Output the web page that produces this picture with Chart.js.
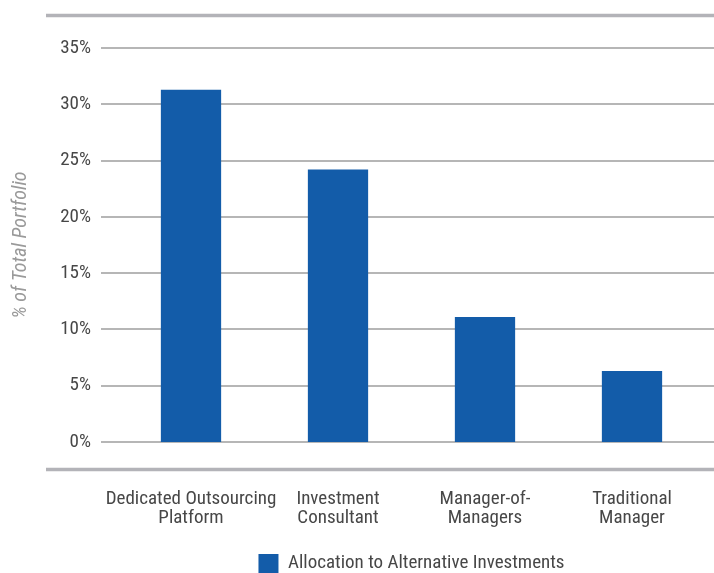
<!DOCTYPE html>
<html>
<head>
<meta charset="utf-8">
<script src="https://cdn.jsdelivr.net/npm/chart.js@4"></script>
<style>
  html, body { margin: 0; padding: 0; background: #ffffff; }
  #wrap { position: relative; width: 714px; height: 573px; }
</style>
</head>
<body>
<div id="wrap"><canvas id="chart"></canvas></div>
<script>
// Share of the total portfolio allocated to alternative investments, by provider type
const categories = [
  ['Dedicated Outsourcing', 'Platform'],
  ['Investment', 'Consultant'],
  ['Manager-of-', 'Managers'],
  ['Traditional', 'Manager']
];
const allocationValues = [31.3, 24.2, 11.1, 6.3];
const seriesName = 'Allocation to Alternative Investments';
const yTickValues = [0, 5, 10, 15, 20, 25, 30, 35];
const yAxisTitle = '% of Total Portfolio';

// Prefer a narrow sans face if one is installed, otherwise fall back to Roboto
function pickFont() {
  const probe = document.createElement('canvas').getContext('2d');
  const sample = 'Dedicated Outsourcing 35%';
  const widthWith = fam => { probe.font = '40px ' + fam; return probe.measureText(sample).width; };
  const narrow = ['Roboto Condensed', 'Liberation Sans Narrow', 'Arial Narrow', 'Nimbus Sans Narrow'];
  for (const name of narrow) {
    const a = widthWith(`'${name}', monospace`);
    const b = widthWith('monospace');
    if (Math.abs(a - b) > 0.5) return { family: `'${name}', sans-serif`, size: 19 };
  }
  return { family: "Roboto, 'Liberation Sans', sans-serif", size: 17 };
}
const FONT = pickFont();
const BAR_BLUE = '#135ca9';
const TEXT = '#474747';

// Horizontal rules: heavy frame lines above and below the plot, light lines at each tick
const rulesPlugin = {
  id: 'rules',
  beforeDatasetsDraw(chart) {
    const { ctx, chartArea, scales } = chart;
    const y = scales.y;
    const right = chart.width;
    ctx.save();
    ctx.strokeStyle = '#b6b6b6';
    ctx.lineWidth = 2;
    y.ticks.forEach(t => {
      const py = Math.round(y.getPixelForValue(t.value));
      ctx.beginPath();
      ctx.moveTo(chartArea.left - 16.5, py);
      ctx.lineTo(right, py);
      ctx.stroke();
    });
    ctx.strokeStyle = '#b3b3b8';
    ctx.lineWidth = 3.5;
    const topY = chartArea.top - 32.5;
    const botY = chartArea.bottom + 27.5;
    [topY, botY].forEach(py => {
      ctx.beginPath();
      ctx.moveTo(46, py);
      ctx.lineTo(right, py);
      ctx.stroke();
    });
    ctx.restore();
  }
};

new Chart(document.getElementById('chart'), {
  type: 'bar',
  data: {
    labels: categories,
    datasets: [{
      label: seriesName,
      data: allocationValues,
      backgroundColor: BAR_BLUE,
      borderWidth: 0,
      categoryPercentage: 0.82,
      barPercentage: 0.5
    }]
  },
  options: {
    responsive: true,
    maintainAspectRatio: false,
    animation: false,
    layout: { padding: { left: 0, right: 8.5, top: 48, bottom: -10 } },
    plugins: {
      tooltip: { enabled: false },
      legend: {
        position: 'bottom',
        fullSize: false,
        labels: {
          boxWidth: 20,
          boxHeight: 19,
          padding: 10,
          color: TEXT,
          font: { family: FONT.family, size: FONT.size }
        }
      }
    },
    scales: {
      x: {
        // invisible tick marks carry the gap between the plot and the category labels
        grid: { display: true, drawOnChartArea: false, drawTicks: true, tickLength: 48, color: 'rgba(0,0,0,0)' },
        border: { display: false },
        ticks: {
          color: TEXT,
          padding: 0,
          maxRotation: 0,
          autoSkip: false,
          font: { family: FONT.family, size: FONT.size, lineHeight: 18.5 / FONT.size }
        },
        afterFit(scale) { scale.height = 102; }
      },
      y: {
        min: 0,
        max: 35,
        afterBuildTicks(scale) { scale.ticks = yTickValues.map(v => ({ value: v })); },
        grid: { display: false, drawTicks: false },
        border: { display: false },
        ticks: {
          color: TEXT,
          padding: 26.5,
          font: { family: FONT.family, size: FONT.size },
          callback: v => v + '%'
        },
        title: {
          display: true,
          text: yAxisTitle,
          color: '#9a9a9a',
          padding: { top: 9, bottom: 0 },
          font: { family: FONT.family, size: FONT.size + 1, style: 'italic' }
        },
        afterFit(scale) { scale.width = 117.5; }
      }
    }
  },
  plugins: [rulesPlugin]
});
</script>
</body>
</html>
